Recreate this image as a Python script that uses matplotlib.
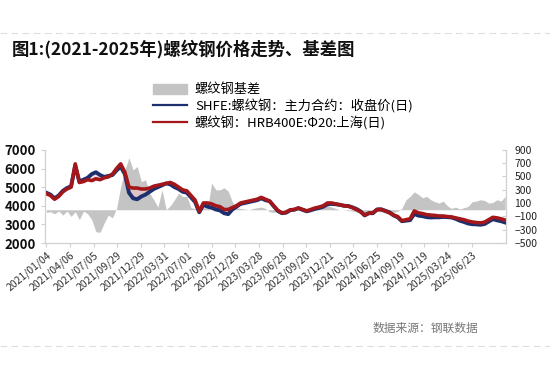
import matplotlib.pyplot as plt
from matplotlib.lines import Line2D
from matplotlib.patches import Patch

plt.rcParams['font.family'] = ['Noto Sans CJK SC', 'DejaVu Sans']

# roughly one point every 10.5 trading days, starting 2021/01/04
step = 10.5
tick_labels = ['2021/01/04', '2021/04/06', '2021/07/05', '2021/09/29', '2021/12/29',
               '2022/03/31', '2022/07/01', '2022/09/26', '2022/12/26', '2023/03/28',
               '2023/06/28', '2023/09/20', '2023/12/21', '2024/03/25', '2024/06/25',
               '2024/09/19', '2024/12/19', '2025/03/24', '2025/06/23']
tick_every = 60

spot = [4650, 4550, 4350, 4500, 4750, 4900, 5000, 6250, 5250, 5300,
        5400, 5350, 5450, 5400, 5500, 5550, 5700, 6000, 6250, 5800,
        5000, 4950, 4950, 4900, 4900, 4950, 5050, 5100, 5150, 5200,
        5250, 5150, 5000, 4850, 4800, 4550, 4300, 3700, 4150, 4150,
        4100, 4000, 3950, 3800, 3800, 3900, 4000, 4150, 4200, 4250,
        4300, 4350, 4450, 4350, 4250, 4000, 3750, 3620, 3650, 3780,
        3800, 3880, 3800, 3720, 3800, 3880, 3930, 4000, 4150, 4150,
        4100, 4050, 4000, 3980, 3900, 3800, 3680, 3500, 3600, 3620,
        3800, 3800, 3720, 3620, 3500, 3420, 3200, 3250, 3300, 3720,
        3620, 3580, 3520, 3500, 3480, 3450, 3450, 3420, 3400, 3350,
        3300, 3250, 3180, 3130, 3100, 3080, 3120, 3250, 3380, 3350,
        3300, 3230]

futures = [4700, 4600, 4400, 4550, 4800, 4950, 5050, 6150, 5300, 5400,
           5500, 5700, 5800, 5650, 5550, 5600, 5650, 5900, 6100, 5700,
           4700, 4400, 4350, 4500, 4600, 4750, 4900, 5000, 5100, 5200,
           5150, 5000, 4900, 4750, 4700, 4450, 4200, 3650, 4050, 3950,
           3900, 3800, 3750, 3600, 3550, 3800, 3950, 4100, 4150, 4200,
           4250, 4300, 4400, 4300, 4250, 3980, 3720, 3600, 3630, 3760,
           3790, 3870, 3780, 3700, 3760, 3830, 3880, 3950, 4080, 4100,
           4080, 4050, 4000, 3990, 3920, 3830, 3700, 3480, 3600, 3600,
           3800, 3810, 3730, 3650, 3480, 3380, 3170, 3200, 3230, 3560,
           3470, 3440, 3390, 3370, 3380, 3380, 3400, 3390, 3370, 3300,
           3200, 3130, 3050, 3010, 3000, 2980, 3020, 3150, 3280, 3220,
           3170, 3100]

basis = [-40, -30, -60, -20, -80, -20, -100, -30, -150, -20,
         -60, -150, -330, -340, -200, -80, -120, 20, 350, 600,
         780, 600, 650, 420, 450, 250, 150, 40, 300, 0,
         60, 150, 250, 200, 200, 30, 20, 10, 30, 20,
         400, 300, 300, 330, 280, 120, 30, 20, 10, 0,
         20, 30, 40, 20, -30, -40, -20, 0, 10, 10,
         -20, 10, 30, 20, 30, 40, 20, 40, 60, 40,
         20, 0, 0, -10, -20, -30, -60, -80, -60, -40,
         -20, -30, -50, -70, -40, -20, 20, 150, 200, 270,
         230, 180, 200, 150, 120, 100, 130, 60, 20, 40,
         10, 30, 50, 120, 130, 150, 140, 100, 110, 150,
         130, 200]

x = [i * step for i in range(len(spot))]
tick_pos = [i * tick_every for i in range(len(tick_labels))]

fig = plt.figure(figsize=(5.5, 3.71), dpi=100)
ax = fig.add_axes([0.082, 0.345, 0.838, 0.251])
ax2 = ax.twinx()
ax.set_zorder(ax2.get_zorder() + 1)
ax.patch.set_visible(False)

ax2.fill_between(x, 0, basis, color='#c4c4c4', linewidth=0)
ax2.set_ylim(-500, 900)
ax2.set_yticks(range(-500, 901, 200))

ax.fill_between(x, spot, futures, color='#f2c9c9', linewidth=0, alpha=0.6)
ax.plot(x, futures, color='#1c2f6e', linewidth=2.8)
ax.plot(x, spot, color='#a3161a', linewidth=2.6)
ax.set_ylim(2000, 7000)
ax.set_yticks(range(2000, 7001, 1000))
ax.set_xlim(-3, x[-1] + 2)
ax.set_xticks(tick_pos)
ax.set_xticklabels(tick_labels, rotation=40, ha='right', rotation_mode='anchor',
                   fontsize=7.5)

for a in (ax, ax2):
    a.spines['top'].set_visible(False)
    for s in ('left', 'right', 'bottom'):
        a.spines[s].set_color('#d0d0d0')
        a.spines[s].set_linewidth(0.8)
ax.tick_params(axis='y', labelsize=9.5, color='#d0d0d0', labelcolor='#111111', length=3)
ax.tick_params(axis='x', color='#d0d0d0', labelcolor='#333333', length=3, pad=2)
ax2.tick_params(axis='y', labelsize=7.5, color='#d0d0d0', labelcolor='#222222',
                length=3, direction='in', pad=6)
for t in ax.get_yticklabels():
    t.set_fontweight('bold')

fig.text(0.022, 0.852, '图1:(2021-2025年)螺纹钢价格走势、基差图', fontsize=12.5,
         fontweight='bold', color='#111111')

handles = [Patch(color='#c4c4c4'),
           Line2D([], [], color='#1c2f6e', linewidth=1.6),
           Line2D([], [], color='#a3161a', linewidth=1.6)]
labels = ['螺纹钢基差', 'SHFE:螺纹钢：主力合约：收盘价(日)', '螺纹钢：HRB400E:Φ20:上海(日)']
fig.legend(handles, labels, loc='upper left', bbox_to_anchor=(0.268, 0.79),
           frameon=False, fontsize=9.5, handlelength=2.6, handleheight=0.8,
           labelspacing=0.22, borderaxespad=0, handletextpad=0.6)

fig.text(0.87, 0.105, '数据来源：钢联数据', fontsize=8.5, color='#777777', ha='right')

for yy in (0.91, 0.068):
    fig.add_artist(Line2D([0, 1], [yy, yy], transform=fig.transFigure,
                          color='#dddddd', linewidth=0.8, linestyle=(0, (6, 4))))

fig.savefig('out.png', dpi=100)
